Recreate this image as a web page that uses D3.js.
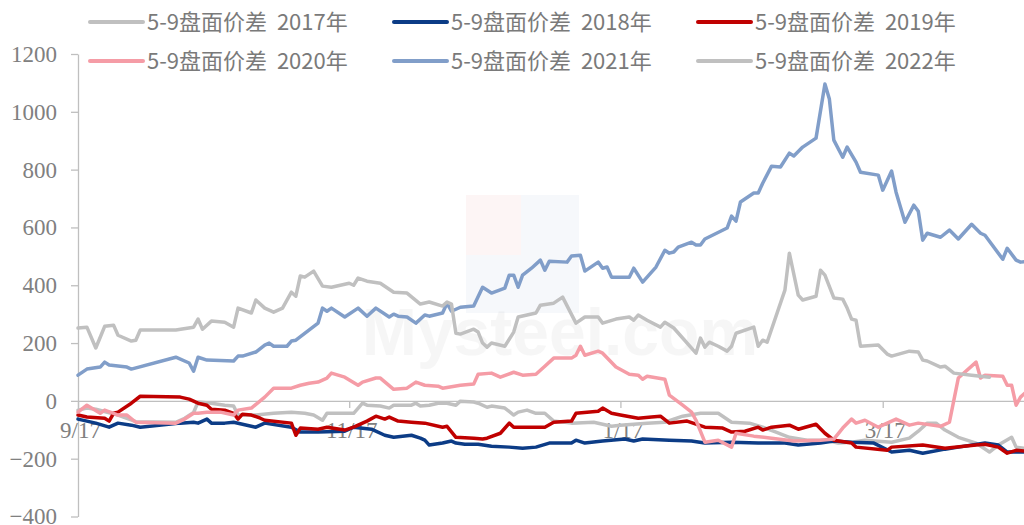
<!DOCTYPE html>
<html>
<head>
<meta charset="utf-8">
<script src="https://cdn.jsdelivr.net/npm/d3@7"></script>
<style>
  body { margin: 0; background: #fff; }
  svg { display: block; }
</style>
</head>
<body>
<svg id="chart" width="1024" height="525"></svg>
<script>
// season series, dates as m/d from 9/17 to 4/18
var s2017 = [["9/17",-32],["9/19",-25],["9/21",-29],["9/26",-49],["9/30",-72],["10/9",-74],["10/11",-60],["10/13",-40],
  ["10/14",-4],["10/17",-8],["10/20",-15],["10/22",-18],["10/23",-49],["10/27",-49],["10/31",-43],["11/4",-39],["11/7",-43],
  ["11/9",-49],["11/11",-67],["11/12",-43],["11/18",-43],["11/20",-8],["11/21",-15],["11/24",-18],["11/26",-25],["11/27",-15],
  ["12/1",-15],["12/2",-8],["12/3",-18],["12/5",-15],["12/7",-8],["12/9",-8],["12/11",-15],["12/12",-1],["12/15",-4],
  ["12/16",-8],["12/18",-22],["12/19",-18],["12/22",-25],["12/24",-49],["12/25",-39],["12/27",-32],["12/29",-43],["12/31",-43],
  ["1/2",-70],["1/6",-77],["1/11",-74],["1/15",-88],["1/17",-84],["1/23",-77],["1/27",-74],["1/31",-53],["2/4",-43],["2/8",-43],
  ["2/11",-74],["2/15",-77],["2/18",-91],["2/21",-108],["2/24",-126],["2/28",-136],["3/4",-136],["3/7",-146],["3/10",-143],
  ["3/13",-136],["3/19",-143],["3/23",-129],["3/25",-105],["3/27",-77],["3/29",-77],["3/31",-101],["4/3",-126],["4/7",-146],
  ["4/10",-177],["4/12",-153],["4/15",-126],["4/16",-160],["4/18",-164]];

var s2018 = [["9/17",-63],["9/21",-77],["9/24",-91],["9/26",-77],["9/29",-84],["10/1",-91],["10/10",-77],["10/13",-74],
  ["10/14",-77],["10/16",-63],["10/17",-77],["10/20",-77],["10/22",-74],["10/27",-91],["10/29",-77],["11/4",-91],["11/6",-108],
  ["11/10",-108],["11/16",-105],["11/18",-91],["11/22",-98],["11/25",-119],["11/27",-126],["12/1",-119],["12/3",-129],
  ["12/4",-136],["12/5",-153],["12/8",-146],["12/10",-139],["12/11",-146],["12/13",-150],["12/16",-150],["12/19",-157],
  ["12/23",-160],["12/26",-164],["12/29",-160],["1/1",-146],["1/6",-146],["1/7",-136],["1/9",-146],["1/13",-139],["1/18",-132],
  ["1/20",-139],["1/22",-132],["1/28",-136],["2/2",-139],["2/5",-146],["2/11",-143],["2/17",-146],["2/23",-146],["2/26",-153],
  ["3/3",-146],["3/6",-139],["3/10",-143],["3/15",-146],["3/19",-177],["3/23",-171],["3/26",-181],["3/31",-167],["4/3",-160],
  ["4/9",-146],["4/12",-153],["4/14",-177],["4/18",-177]];

var s2019 = [["9/17",-49],["9/19",-56],["9/23",-60],["9/24",-70],["9/25",-43],["9/26",-39],["9/29",-8],["10/1",16],
  ["10/10",13],["10/12",6],["10/14",-8],["10/16",-15],["10/17",-29],["10/20",-32],["10/22",-43],["10/23",-63],["10/24",-46],
  ["10/26",-49],["10/28",-60],["10/29",-67],["11/4",-77],["11/5",-119],["11/6",-94],["11/10",-98],["11/12",-91],["11/16",-101],
  ["11/18",-91],["11/21",-70],["11/23",-53],["11/25",-63],["11/26",-56],["11/28",-70],["12/1",-74],["12/4",-77],["12/8",-91],
  ["12/9",-88],["12/11",-126],["12/15",-129],["12/17",-132],["12/18",-129],["12/21",-112],["12/23",-77],["12/24",-91],
  ["12/31",-91],["1/2",-74],["1/6",-70],["1/7",-43],["1/12",-36],["1/13",-25],["1/15",-43],["1/17",-49],["1/21",-60],
  ["1/24",-56],["1/26",-53],["1/28",-77],["2/1",-70],["2/5",-91],["2/9",-94],["2/11",-108],["2/14",-105],["2/17",-91],
  ["2/18",-101],["2/20",-91],["2/24",-84],["2/26",-98],["3/2",-81],["3/4",-112],["3/6",-136],["3/10",-146],["3/11",-160],
  ["3/18",-171],["3/19",-160],["3/26",-153],["3/31",-164],["4/7",-153],["4/9",-150],["4/12",-160],["4/14",-181],["4/16",-171],
  ["4/18",-174]];

var s2020 = [["9/17",-39],["9/19",-15],["9/22",-43],["9/23",-32],["9/25",-43],["9/26",-49],["9/28",-49],["9/30",-74],
  ["10/9",-77],["10/11",-63],["10/13",-43],["10/14",-43],["10/16",-39],["10/19",-39],["10/22",-49],["10/23",-32],["10/26",-25],
  ["10/29",13],["10/31",44],["11/4",44],["11/6",54],["11/8",61],["11/10",65],["11/12",79],["11/13",96],["11/16",82],
  ["11/19",54],["11/20",65],["11/23",79],["11/24",79],["11/27",40],["11/30",44],["12/2",65],["12/4",54],["12/7",51],
  ["12/8",44],["12/12",54],["12/15",58],["12/16",92],["12/19",96],["12/21",82],["12/24",99],["12/26",89],["12/29",92],
  ["12/31",120],["1/2",148],["1/6",148],["1/7",158],["1/8",189],["1/9",158],["1/12",172],["1/13",165],["1/16",117],
  ["1/19",92],["1/21",89],["1/22",75],["1/23",85],["1/27",75],["1/28",20],["1/31",-15],["2/2",-39],["2/3",-67],["2/5",-143],
  ["2/8",-136],["2/11",-160],["2/12",-112],["2/16",-122],["2/20",-129],["2/25",-139],["3/3",-136],["3/6",-132],["3/8",-94],
  ["3/10",-63],["3/11",-77],["3/13",-67],["3/16",-91],["3/18",-77],["3/20",-63],["3/23",-84],["3/25",-77],["3/30",-88],
  ["4/1",-74],["4/3",79],["4/7",134],["4/8",79],["4/9",89],["4/13",85],["4/14",54],["4/15",54],["4/16",-15],["4/17",13],
  ["4/18",27]];

var s2021 = [["9/17",89],["9/19",110],["9/22",117],["9/23",134],["9/24",124],["9/28",117],["9/29",110],["10/9",151],
  ["10/12",131],["10/13",103],["10/14",151],["10/16",141],["10/22",138],["10/23",155],["10/24",155],["10/27",169],
  ["10/29",193],["10/30",200],["10/31",189],["11/3",189],["11/4",207],["11/5",210],["11/10",269],["11/11",321],["11/12",310],
  ["11/13",321],["11/16",290],["11/19",321],["11/21",293],["11/23",321],["11/26",290],["11/27",300],["11/28",293],
  ["11/30",290],["12/2",269],["12/4",297],["12/5",293],["12/8",304],["12/9",338],["12/10",310],["12/12",324],["12/15",328],
  ["12/17",393],["12/19",373],["12/22",390],["12/23",435],["12/24",435],["12/25",393],["12/26",435],["12/28",459],
  ["12/30",487],["12/31",452],["1/1",483],["1/5",480],["1/6",501],["1/8",504],["1/9",449],["1/12",480],["1/13",459],
  ["1/14",463],["1/15",428],["1/19",428],["1/20",459],["1/22",411],["1/25",463],["1/27",521],["1/28",511],["1/29",515],
  ["1/30",532],["2/2",549],["2/3",539],["2/4",539],["2/5",560],["2/10",598],["2/11",639],["2/12",622],["2/13",688],
  ["2/16",719],["2/17",719],["2/18",753],["2/20",812],["2/22",809],["2/24",857],["2/25",847],["2/27",878],["3/2",909],
  ["3/4",1096],["3/5",1044],["3/6",902],["3/8",843],["3/9",878],["3/11",826],["3/12",791],["3/16",781],["3/17",729],
  ["3/19",795],["3/20",722],["3/22",618],["3/24",677],["3/25",656],["3/26",556],["3/27",580],["3/30",566],["4/1",591],
  ["4/3",560],["4/6",611],["4/8",580],["4/9",573],["4/13",490],["4/14",528],["4/16",487],["4/17",480],["4/18",482]];

var s2022 = [["9/17",252],["9/19",255],["9/21",183],["9/22",220],["9/23",258],["9/25",262],["9/26",227],["9/29",207],
  ["9/30",210],["10/1",245],["10/9",245],["10/13",255],["10/14",283],["10/15",248],["10/17",276],["10/20",272],["10/22",255],
  ["10/23",321],["10/26",304],["10/27",349],["10/29",321],["10/31",307],["11/2",321],["11/4",376],["11/5",362],["11/6",432],
  ["11/7",428],["11/9",449],["11/11",397],["11/13",393],["11/17",407],["11/18",400],["11/19",425],["11/21",414],["11/24",407],
  ["11/27",376],["11/30",373],["12/3",335],["12/5",342],["12/8",328],["12/9",342],["12/10",335],["12/11",234],["12/12",231],
  ["12/15",248],["12/16",238],["12/17",200],["12/18",186],["12/19",200],["12/22",189],["12/24",238],["12/25",290],
  ["12/29",304],["12/30",331],["1/2",338],["1/4",359],["1/7",269],["1/9",290],["1/12",290],["1/13",269],["1/16",283],
  ["1/19",290],["1/20",279],["1/21",297],["1/23",279],["1/26",255],["1/27",272],["1/29",252],["2/3",165],["2/4",217],
  ["2/5",186],["2/6",203],["2/8",189],["2/10",172],["2/11",189],["2/12",234],["2/16",255],["2/17",189],["2/18",210],
  ["2/19",203],["2/23",383],["2/24",511],["2/26",366],["2/27",349],["3/2",362],["3/3",452],["3/4",435],["3/6",356],
  ["3/8",352],["3/9",321],["3/10",283],["3/11",279],["3/12",189],["3/16",193],["3/18",162],["3/19",155],["3/23",172],
  ["3/25",169],["3/26",141],["3/27",138],["3/30",117],["3/31",120],["4/2",96],["4/6",89],["4/8",85],["4/10",82]];

var seriesNames = ["5-9盘面价差  2017年", "5-9盘面价差  2018年", "5-9盘面价差  2019年",
                   "5-9盘面价差  2020年", "5-9盘面价差  2021年", "5-9盘面价差  2022年"];
var seriesColors = ["#c0c0c0", "#0c3c86", "#c00000", "#f59ca6", "#819ec9", "#c0c0c0"];
var seriesData = [s2017, s2018, s2019, s2020, s2021, s2022];

var xTickLabels = ["9/17", "11/17", "1/17", "3/17"];
var yTicks = [-400, -200, 0, 200, 400, 600, 800, 1000, 1200];

function parseDay(s) {
  var p = s.split("/").map(Number);
  return new Date(p[0] >= 9 ? 2000 : 2001, p[0] - 1, p[1]);
}

(function() {
  var svg = d3.select("#chart");
  var plotLeft = 78, plotTop = 54, plotBottom = 516.5, plotRight = 1025;

  var x = d3.scaleTime()
      .domain([parseDay("9/17"), parseDay("4/18")])
      .range([plotLeft, plotRight]);
  var y = d3.scaleLinear().domain([-400, 1200]).range([plotBottom, plotTop]);

  svg.append("rect").attr("width", 1024).attr("height", 525).attr("fill", "#fff");

  // faint watermark
  var wm = svg.append("g").attr("opacity", 0.035);
  wm.append("rect").attr("x", 466).attr("y", 195).attr("width", 55).attr("height", 60).attr("fill", "#e00000");
  wm.append("rect").attr("x", 521).attr("y", 195).attr("width", 58).attr("height", 60).attr("fill", "#2050a0");
  wm.append("rect").attr("x", 466).attr("y", 255).attr("width", 113).attr("height", 58).attr("fill", "#2050a0");
  svg.append("text").attr("x", 560).attr("y", 355).attr("text-anchor", "middle")
      .attr("font-family", "Arial, 'Liberation Sans', sans-serif").attr("font-weight", "bold")
      .attr("font-size", 66).attr("fill", "#000").attr("opacity", 0.03).text("Mysteel.com");

  // y axis
  var gy = svg.append("g")
      .attr("transform", "translate(" + plotLeft + ",0)")
      .call(d3.axisLeft(y).tickValues(yTicks).tickFormat(d3.format("d"))
        .tickSize(7).tickSizeOuter(0).tickPadding(14));
  gy.select(".domain").attr("stroke", "#bfbfbf").attr("stroke-width", 1.3);
  gy.selectAll(".tick line").attr("stroke", "#bfbfbf").attr("stroke-width", 1.3);
  gy.selectAll("text")
      .attr("font-family", "'Liberation Serif', 'Times New Roman', serif")
      .attr("font-size", 23).attr("fill", "#808080");

  // x axis at zero
  var gx = svg.append("g")
      .attr("transform", "translate(0," + y(0) + ")")
      .call(d3.axisBottom(x).tickValues(xTickLabels.map(parseDay))
        .tickFormat(function(d, i) { return xTickLabels[i]; })
        .tickSize(7).tickSizeOuter(0));
  gx.select(".domain").attr("stroke", "#bfbfbf").attr("stroke-width", 1.3);
  gx.selectAll(".tick line").attr("stroke", "#bfbfbf").attr("stroke-width", 1.3);
  gx.selectAll("text")
      .attr("y", 37).attr("dy", 0).attr("dx", 2)
      .attr("font-family", "'Liberation Serif', 'Times New Roman', serif")
      .attr("font-size", 23).attr("fill", "#808080");

  var line = d3.line()
      .x(function(d) { return x(parseDay(d[0])); })
      .y(function(d) { return y(d[1]); });

  svg.append("g").selectAll("path")
      .data(seriesData)
      .enter().append("path")
        .attr("d", line)
        .attr("fill", "none")
        .attr("stroke", function(d, i) { return seriesColors[i]; })
        .attr("stroke-width", 3.5)
        .attr("stroke-linejoin", "round")
        .attr("stroke-linecap", "round");

  // legend
  var colX = [90, 394, 698], rowY = [22, 61];
  var lg = svg.append("g").selectAll("g")
      .data(seriesNames)
      .enter().append("g")
        .attr("transform", function(d, i) { return "translate(" + colX[i % 3] + "," + rowY[Math.floor(i / 3)] + ")"; });
  lg.append("line")
      .attr("x1", 0).attr("x2", 53)
      .attr("stroke", function(d, i) { return seriesColors[i]; })
      .attr("stroke-width", 4).attr("stroke-linecap", "round");
  lg.append("text")
      .attr("x", 57).attr("dy", "0.36em")
      .style("white-space", "pre")
      .attr("font-family", "'Noto Sans CJK SC', 'Noto Sans', sans-serif")
      .attr("font-size", 22).attr("fill", "#7a7a7a")
      .text(function(d) { return d; });
})();
</script>
</body>
</html>
